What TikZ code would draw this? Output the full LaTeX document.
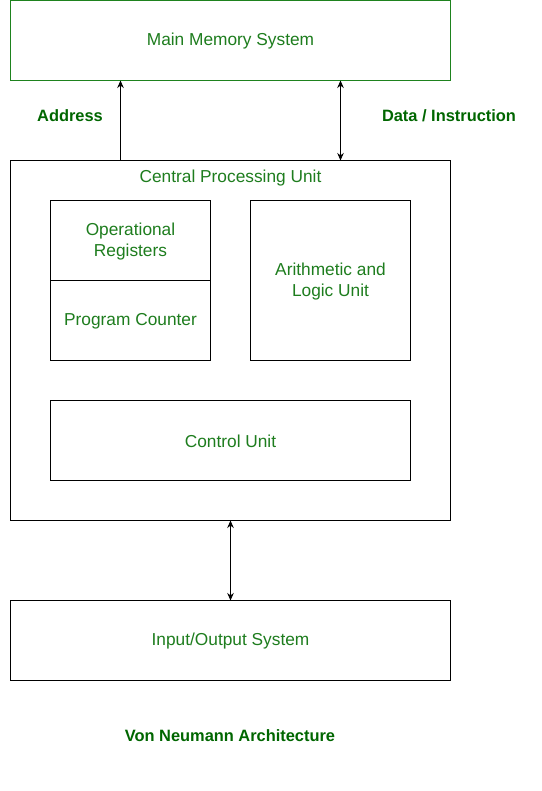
\documentclass[tikz,border=0pt]{standalone}
\usepackage{fontspec}
\setmainfont{Liberation Sans}
\usetikzlibrary{arrows.meta}
\definecolor{txtgreen}{RGB}{30,125,30}
\definecolor{boldgreen}{RGB}{0,102,0}
\definecolor{boxgreen}{RGB}{30,130,30}
\begin{document}
\begin{tikzpicture}[x=1pt,y=-1pt,
  box/.style={draw=black,line width=0.9pt,inner sep=0pt},
  lbl/.style={text=txtgreen,font=\fontsize{17.3}{21}\selectfont,align=center},
  blbl/.style={text=boldgreen,font=\fontsize{16.4}{19}\selectfont\bfseries},
  conn/.style={draw=black,line width=0.9pt},
  tip/.style={-{Stealth[length=7.5pt,width=6.5pt]}},
  tips/.style={{Stealth[length=7.5pt,width=6.5pt]}-{Stealth[length=7.5pt,width=6.5pt]}}]
\useasboundingbox (0,0) rectangle (541,791);
\fill[white] (0,0) rectangle (541,791);
% Main memory
\draw[box,draw=boxgreen] (10.5,0.5) rectangle (450.5,80.5);
\coordinate (mmA) at (120.5,80.5);
\coordinate (mmD) at (340.5,80.5);
\node[lbl] (mm) at (230.5,41.5) {Main Memory System};
% CPU
\draw[box] (10.5,160.5) rectangle (450.5,520.5);
\coordinate (cpuA) at (120.5,160.5);
\coordinate (cpuD) at (340.5,160.5);
\coordinate (cpuB) at (230.5,520.5);
\node[lbl] (cpu) at (230.5,178.5) {Central Processing Unit};
% Registers / PC
\draw[box] (50.5,200.5) rectangle (210.5,280.5);
\node[lbl] (reg) at (130.5,242) {Operational\\Registers};
\draw[box] (50.5,280.5) rectangle (210.5,360.5);
\node[lbl] (pc) at (130.5,321.5) {Program Counter};
% ALU
\draw[box] (250.5,200.5) rectangle (410.5,360.5);
\node[lbl] (alu) at (330.5,282) {Arithmetic and\\Logic Unit};
% Control unit
\draw[box] (50.5,400.5) rectangle (410.5,480.5);
\node[lbl] (cu) at (230.5,441.5) {Control Unit};
% IO
\draw[box] (10.5,600.5) rectangle (450.5,680.5);
\coordinate (ioT) at (230.5,600.5);
\node[lbl] (io) at (230.5,641.5) {Input/Output System};
% connectors
\draw[conn,tip] (cpuA) -- (mmA);
\draw[conn,tips] (cpuD) -- (mmD);
\draw[conn,tips] (ioT) -- (cpuB);
% labels
\node[blbl] (addr) at (70,115.5) {Address};
\node[blbl] (data) at (449,115.5) {Data / Instruction};
\node[blbl] (title) at (230,735.5) {Von Neumann Architecture};
\end{tikzpicture}
\end{document}
